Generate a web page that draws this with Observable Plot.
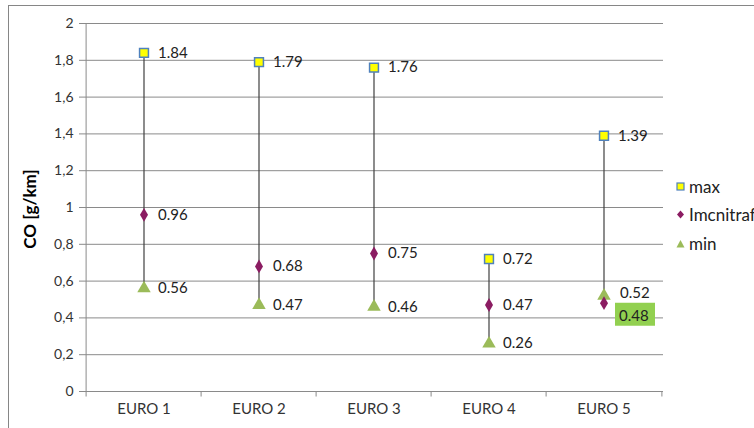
<!DOCTYPE html>
<html><head><meta charset="utf-8">
<script src="https://cdn.jsdelivr.net/npm/d3@7"></script>
<script src="https://cdn.jsdelivr.net/npm/@observablehq/plot@0.6"></script>
<style>
html,body{margin:0;padding:0;background:#fff;overflow:hidden;}
#wrap{position:relative;width:754px;height:428px;font-family:Lato,"Open Sans",sans-serif;overflow:hidden;}
#frame{position:absolute;left:8px;top:5px;width:760px;height:440px;border:1px solid #868686;box-sizing:border-box;}
#chart{position:absolute;left:0;top:0;}
#legend{position:absolute;left:676px;top:172px;font-size:17px;color:#222;white-space:nowrap;}
#legend div{height:28.5px;display:flex;align-items:center;}
#legend svg{margin-right:4px;}
#ytitle{position:absolute;left:29px;top:209px;transform:translate(-50%,-50%) rotate(-90deg);font-weight:bold;font-size:17px;color:#000;white-space:nowrap;}
</style></head>
<body><div id="wrap"><div id="frame"></div><div id="chart"></div><div id="legend"></div><div id="ytitle"></div></div>
<script>
const categories = ["EURO 1", "EURO 2", "EURO 3", "EURO 4", "EURO 5"];
const maxValues = [1.84, 1.79, 1.76, 0.72, 1.39];
const midValues = [0.96, 0.68, 0.75, 0.47, 0.48];
const minValues = [0.56, 0.47, 0.46, 0.26, 0.52];
const yTicks = [0, 0.2, 0.4, 0.6, 0.8, 1, 1.2, 1.4, 1.6, 1.8, 2];
const seriesNames = ["max", "Imcnitraf", "min"];
const yTitle = "CO [g/km]";
const highlightCategory = "EURO 5";

const rows = categories.map((c, i) => ({cat: c, max: maxValues[i], mid: midValues[i], min: minValues[i]}));
const fmtVal = v => v.toFixed(2);
const fmtTick = v => String(v).replace(".", ",");

const W = 754, H = 428, mL = 84, mR = 91, mT = 23, mB = 37;
const bw = (W - mL - mR) / categories.length;
const gridColor = "#8a8a8a";
const maxFill = "#ffff00", maxStroke = "#4f81bd", midColor = "#8b1c62", minColor = "#9bbb59";
const labelFont = {fontSize: 15, fill: "#222", textAnchor: "start"};

const boxSymbol = {draw(ctx){ ctx.rect(-20, -11.5, 40, 23); }};

const normalRows = rows.filter(d => d.cat !== highlightCategory);
const hiRows = rows.filter(d => d.cat === highlightCategory);

const plot = Plot.plot({
  width: W, height: H,
  marginLeft: mL, marginRight: mR, marginTop: mT, marginBottom: mB,
  style: {fontFamily: "Lato, 'Open Sans', sans-serif", background: "transparent", overflow: "visible"},
  x: {type: "band", domain: categories, padding: 0},
  y: {domain: [0, 2]},
  marks: [
    Plot.gridY(yTicks, {stroke: gridColor, strokeOpacity: 1, strokeWidth: 1}),
    Plot.ruleX([0], {x: () => categories[0], dx: -bw / 2, y1: 0, y2: 2, stroke: gridColor}),
    Plot.ruleY([0], {stroke: gridColor}),
    Plot.ruleX(categories, {x: d => d, dx: -bw / 2, y1: 0, y2: -0.03, stroke: gridColor}),
    Plot.ruleX(categories.slice(-1), {x: d => d, dx: bw / 2, y1: 0, y2: -0.03, stroke: gridColor}),
    Plot.axisY(yTicks, {tickFormat: fmtTick, tickSize: 5, tickPadding: 6, fontSize: 14, color: "#333", stroke: gridColor, label: null}),
    Plot.axisX({tickSize: 0, tickPadding: 12, fontSize: 15, color: "#333", label: null}),
    Plot.ruleX(rows, {x: "cat", y1: d => Math.min(d.max, d.mid, d.min), y2: d => Math.max(d.max, d.mid, d.min), stroke: "#404040", strokeWidth: 1.2}),
    Plot.dot(rows, {x: "cat", y: "min", symbol: "triangle", r: 5, fill: minColor}),
    Plot.dot(rows, {x: "cat", y: "mid", symbol: "diamond", r: 4.2, fill: midColor}),
    Plot.dot(rows, {x: "cat", y: "max", symbol: "square", r: 5, fill: maxFill, stroke: maxStroke, strokeWidth: 1.5}),
    Plot.text(rows, {x: "cat", y: "max", text: d => fmtVal(d.max), dx: 14, ...labelFont}),
    Plot.text(normalRows, {x: "cat", y: "min", text: d => fmtVal(d.min), dx: 14, ...labelFont}),
    Plot.text(hiRows, {x: "cat", y: "min", text: d => fmtVal(d.min), dx: 16, dy: -3, ...labelFont}),
    Plot.text(normalRows, {x: "cat", y: "mid", text: d => fmtVal(d.mid), dx: 14, ...labelFont}),
    Plot.dot(hiRows, {x: "cat", y: "mid", symbol: boxSymbol, r: 5, fill: "#92d050", dx: 31, dy: 11}),
    Plot.text(hiRows, {x: "cat", y: "mid", text: d => fmtVal(d.mid), dx: 15, dy: 13, ...labelFont})
  ]
});
document.getElementById("chart").appendChild(plot);
document.getElementById("ytitle").textContent = yTitle;

const legendSymbols = [
  `<svg width="9" height="9"><rect x="1" y="1" width="7" height="7" fill="${maxFill}" stroke="${maxStroke}" stroke-width="1.2"/></svg>`,
  `<svg width="9" height="9"><path d="M4.5 0.5 L8 4.5 L4.5 8.5 L1 4.5 Z" fill="${midColor}"/></svg>`,
  `<svg width="9" height="9"><path d="M4.5 1 L8.5 8.5 L0.5 8.5 Z" fill="${minColor}"/></svg>`
];
const legend = document.getElementById("legend");
seriesNames.forEach((n, i) => {
  const d = document.createElement("div");
  d.innerHTML = legendSymbols[i] + `<span>${n}</span>`;
  legend.appendChild(d);
});
</script></body></html>
